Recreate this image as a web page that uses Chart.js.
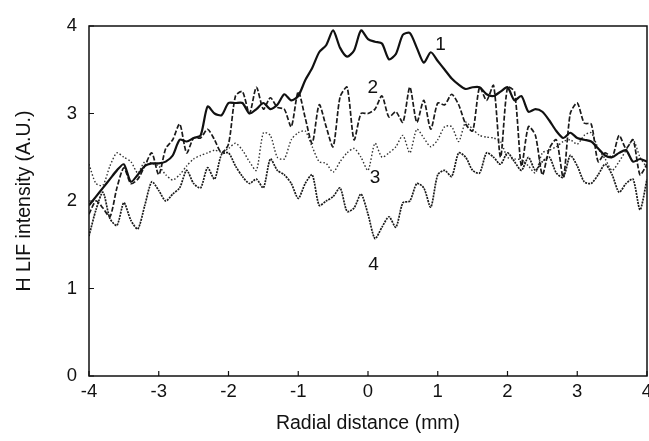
<!DOCTYPE html>
<html>
<head>
<meta charset="utf-8">
<script src="https://cdn.jsdelivr.net/npm/chart.js@4/dist/chart.umd.min.js"></script>
<style>
  html, body { margin: 0; padding: 0; background: #fff; }
  #wrap { width: 649px; height: 441px; }
</style>
</head>
<body>
<div id="wrap"><canvas id="lifChart" width="649" height="441"></canvas></div>
<script>
// radial positions (mm)
const radial = [-4.0,-3.9,-3.8,-3.7,-3.6,-3.5,-3.4,-3.3,-3.2,-3.1,-3.0,-2.9,-2.8,-2.7,-2.6,-2.5,-2.4,-2.3,-2.2,-2.1,
  -2.0,-1.9,-1.8,-1.7,-1.6,-1.5,-1.4,-1.3,-1.2,-1.1,-1.0,-0.9,-0.8,-0.7,-0.6,-0.5,-0.4,-0.3,-0.2,-0.1,
  0.0,0.1,0.2,0.3,0.4,0.5,0.6,0.7,0.8,0.9,1.0,1.1,1.2,1.3,1.4,1.5,1.6,1.7,1.8,1.9,
  2.0,2.1,2.2,2.3,2.4,2.5,2.6,2.7,2.8,2.9,3.0,3.1,3.2,3.3,3.4,3.5,3.6,3.7,3.8,3.9,4.0];

// H LIF intensity (A.U.) for the four curves
const curve1 = [1.95,2.05,2.15,2.25,2.35,2.42,2.22,2.3,2.4,2.43,2.43,2.45,2.52,2.7,2.68,2.72,2.75,3.08,3.0,2.98,
  3.12,3.12,3.12,3.0,3.05,3.12,3.05,3.1,3.22,3.15,3.2,3.38,3.52,3.7,3.78,3.95,3.75,3.65,3.72,3.95,
  3.85,3.82,3.8,3.62,3.68,3.9,3.92,3.75,3.58,3.7,3.6,3.5,3.4,3.33,3.28,3.3,3.3,3.22,3.2,3.25,
  3.3,3.15,3.2,3.02,3.05,3.02,2.92,2.8,2.72,2.78,2.72,2.7,2.68,2.6,2.52,2.5,2.55,2.58,2.45,2.48,2.45];
const curve2 = [1.85,2.0,1.92,1.82,2.15,2.38,2.2,2.25,2.4,2.55,2.3,2.6,2.7,2.88,2.55,2.72,2.72,2.82,2.7,2.55,
  2.65,3.2,3.25,3.0,3.3,3.05,3.18,3.07,3.05,2.85,3.25,2.95,2.66,3.1,2.85,2.62,3.19,3.3,2.7,3.0,
  3.0,3.05,3.2,2.96,3.02,2.9,3.3,2.9,3.15,2.82,3.12,3.1,3.22,3.1,2.88,2.8,3.3,3.15,3.32,2.5,
  3.3,3.25,2.4,2.85,2.75,2.3,2.6,2.7,2.27,3.0,3.12,2.89,2.88,2.45,2.55,2.5,2.75,2.6,2.7,2.3,2.42];
const curve3 = [2.42,2.2,2.18,2.4,2.55,2.5,2.45,2.32,2.45,2.43,2.4,2.3,2.24,2.3,2.4,2.48,2.52,2.55,2.58,2.56,
  2.6,2.66,2.58,2.45,2.35,2.78,2.75,2.5,2.48,2.7,2.78,2.8,2.62,2.45,2.43,2.33,2.45,2.55,2.6,2.5,
  2.35,2.66,2.5,2.55,2.62,2.75,2.55,2.82,2.72,2.62,2.7,2.85,2.85,2.68,2.9,2.82,2.75,2.73,2.72,2.68,
  2.5,2.48,2.47,2.4,2.32,2.55,2.58,2.62,2.68,2.7,2.65,2.75,2.78,2.6,2.48,2.35,2.45,2.58,2.7,2.5,2.38];
const curve4 = [1.6,1.9,2.1,1.8,1.72,1.98,1.78,1.68,1.95,2.22,2.12,2.0,2.08,2.15,2.35,2.2,2.15,2.38,2.25,2.53,
  2.55,2.4,2.28,2.2,2.25,2.15,2.48,2.35,2.3,2.2,2.03,2.2,2.3,1.95,2.0,2.05,2.15,1.88,1.92,2.08,
  1.85,1.57,1.7,1.82,1.7,1.98,2.0,2.2,2.15,1.93,2.3,2.35,2.28,2.55,2.5,2.35,2.32,2.55,2.5,2.42,
  2.55,2.45,2.35,2.5,2.35,2.45,2.5,2.32,2.27,2.52,2.4,2.22,2.2,2.3,2.42,2.3,2.1,2.2,2.25,1.9,2.25];

// curve numbers written on the plot
const curveLabels = ['1', '2', '3', '4'];
const labelX = [1.04, 0.07, 0.1, 0.08];
const labelY = [3.78, 3.29, 2.26, 1.27];

const xTicks = [-4, -3, -2, -1, 0, 1, 2, 3, 4];
const yTicks = [0, 1, 2, 3, 4];

function toPoints(ys) {
    return radial.map((x, i) => ({ x: x, y: ys[i] }));
}

const FONT = "'Liberation Sans', Arial, sans-serif";

// frame + inward tick marks + curve numbers
const framePlugin = {
    id: 'frame',
    afterDatasetsDraw(chart) {
        const { ctx, chartArea: a, scales } = chart;
        ctx.save();
        ctx.strokeStyle = '#111';
        ctx.lineWidth = 1.5;
        ctx.strokeRect(a.left, a.top, a.right - a.left, a.bottom - a.top);
        ctx.lineWidth = 1.2;
        ctx.beginPath();
        yTicks.forEach(v => {
            const py = scales.y.getPixelForValue(v);
            ctx.moveTo(a.left, py);
            ctx.lineTo(a.left + 5, py);
        });
        xTicks.forEach(v => {
            const px = scales.x.getPixelForValue(v);
            ctx.moveTo(px, a.bottom);
            ctx.lineTo(px, a.bottom - 5);
        });
        ctx.stroke();

        ctx.fillStyle = '#111';
        ctx.font = '19px ' + FONT;
        ctx.textAlign = 'center';
        ctx.textBaseline = 'middle';
        curveLabels.forEach((t, i) => {
            ctx.fillText(t, scales.x.getPixelForValue(labelX[i]), scales.y.getPixelForValue(labelY[i]));
        });
        ctx.restore();
    }
};

const ctx = document.getElementById('lifChart').getContext('2d');
const lifChart = new Chart(ctx, {
    type: 'line',
    data: {
        datasets: [
            { label: '1', data: toPoints(curve1), borderColor: '#111', borderWidth: 2.2, borderDash: [] },
            { label: '2', data: toPoints(curve2), borderColor: '#1a1a1a', borderWidth: 1.7, borderDash: [5, 2] },
            { label: '3', data: toPoints(curve3), borderColor: '#333', borderWidth: 1.4, borderDash: [1.5, 2] },
            { label: '4', data: toPoints(curve4), borderColor: '#1a1a1a', borderWidth: 1.7, borderDash: [2, 1] }
        ]
    },
    options: {
        responsive: false,
        animation: false,
        layout: { padding: { top: 26, right: 2, left: 0, bottom: 0 } },
        elements: {
            point: { radius: 0 },
            line: { tension: 0.25, fill: false }
        },
        plugins: {
            legend: { display: false },
            tooltip: { enabled: false }
        },
        scales: {
            x: {
                type: 'linear',
                min: -4,
                max: 4,
                afterBuildTicks: s => { s.ticks = xTicks.map(v => ({ value: v })); },
                afterFit: s => { s.height = 65; s.paddingLeft = 0; s.paddingRight = 0; },
                grid: { display: false, drawTicks: false },
                border: { display: false },
                ticks: { color: '#111', font: { family: FONT, size: 18.5 }, padding: 5, maxRotation: 0 },
                title: {
                    display: true,
                    text: 'Radial distance (mm)',
                    color: '#111',
                    font: { family: FONT, size: 19.5 },
                    padding: { top: 2, bottom: 6 }
                }
            },
            y: {
                min: 0,
                max: 4,
                afterBuildTicks: s => { s.ticks = yTicks.map(v => ({ value: v })); },
                afterFit: s => { s.width = 89; s.paddingTop = 0; s.paddingBottom = 0; },
                grid: { display: false, drawTicks: false },
                border: { display: false },
                ticks: { color: '#111', font: { family: FONT, size: 18.5 }, padding: 12 },
                title: {
                    display: true,
                    text: 'H LIF intensity (A.U.)',
                    color: '#111',
                    font: { family: FONT, size: 19.5 },
                    padding: { top: 13, bottom: 0 }
                }
            }
        }
    },
    plugins: [framePlugin]
});
</script>
</body>
</html>
